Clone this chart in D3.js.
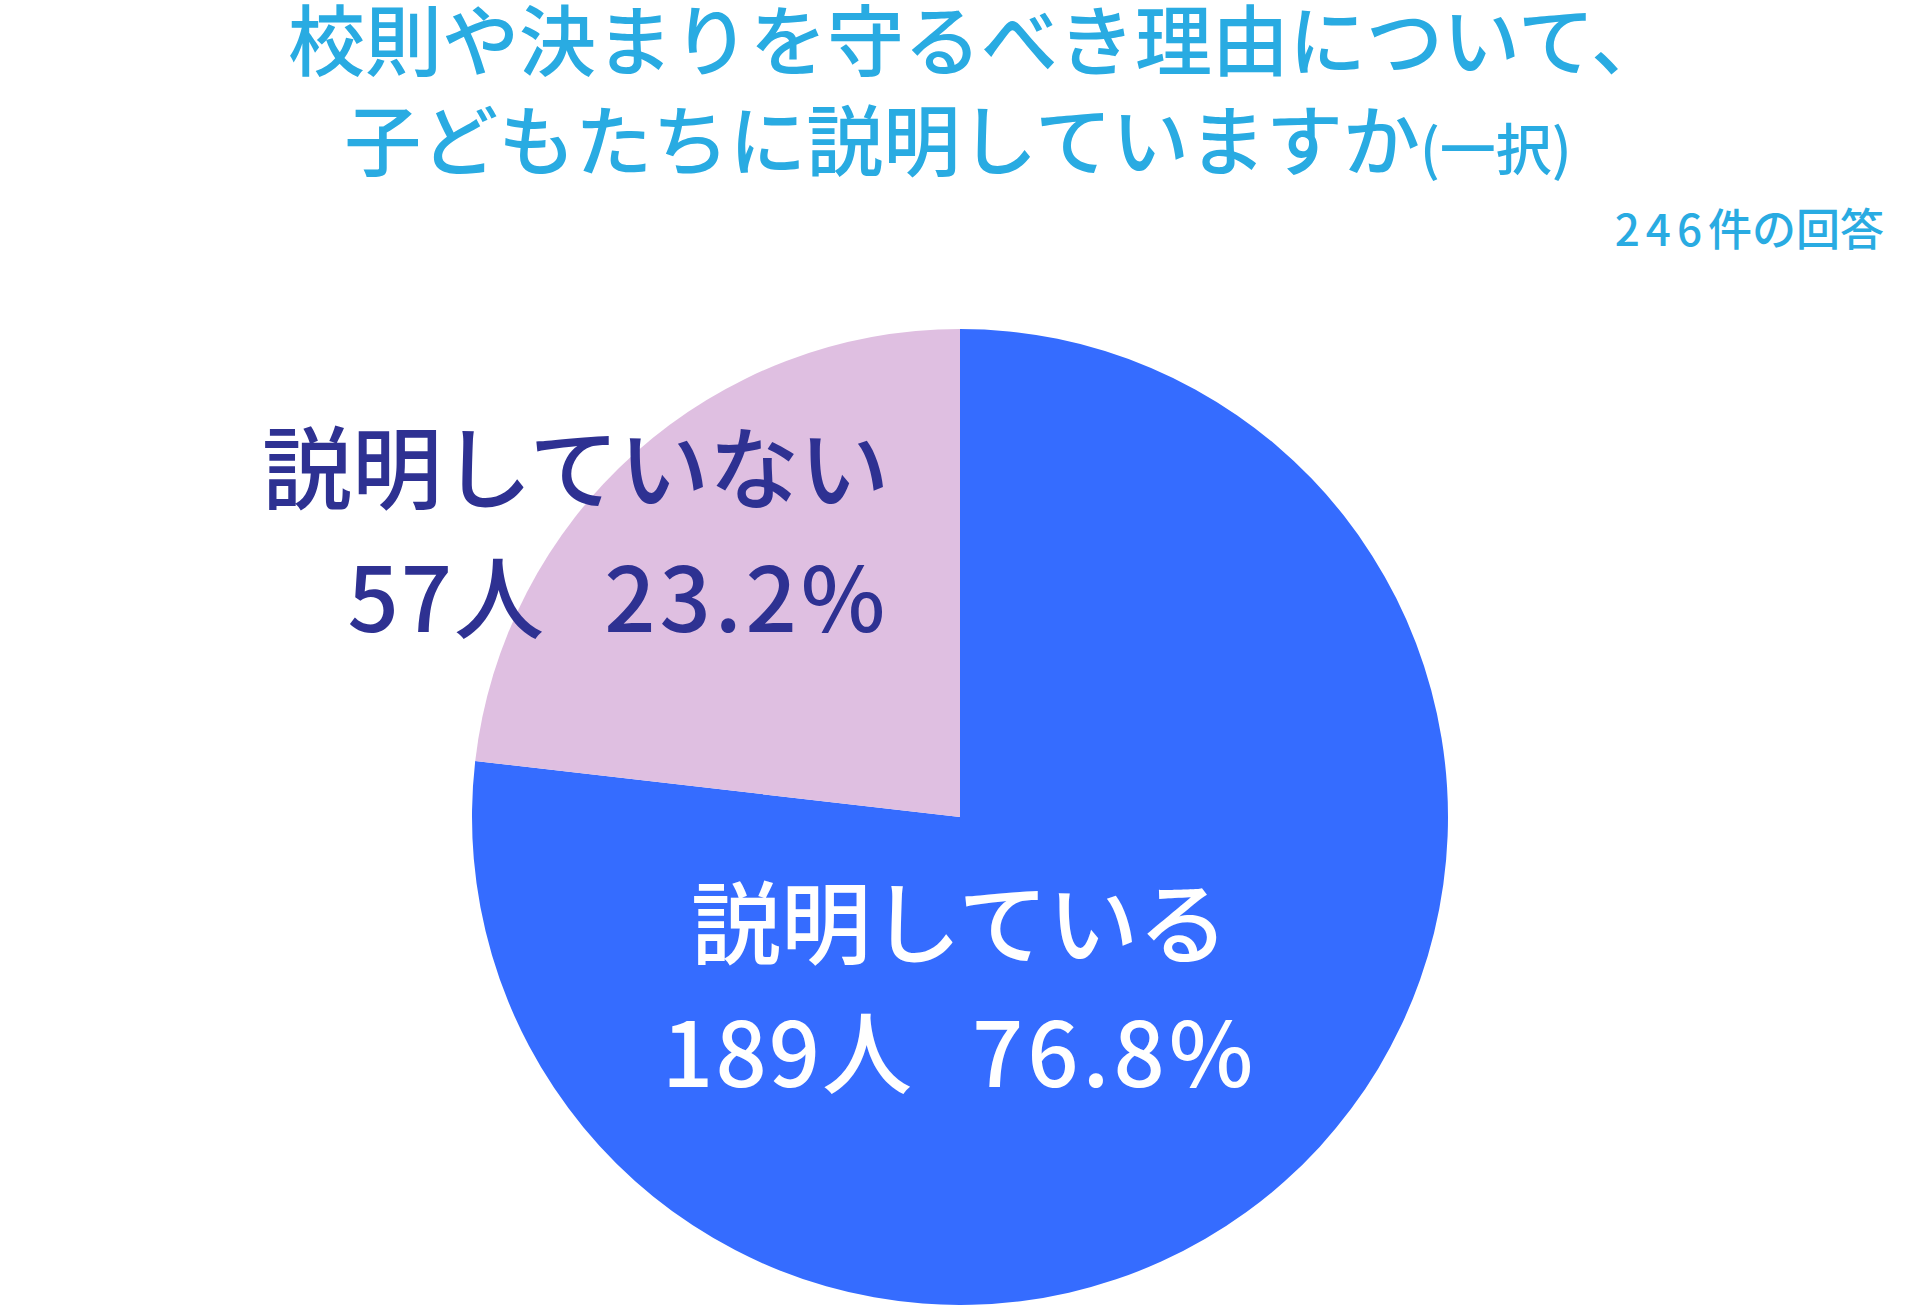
<!DOCTYPE html>
<html>
<head>
<meta charset="utf-8">
<script src="https://cdn.jsdelivr.net/npm/d3@7"></script>
<style>
  html, body { margin: 0; padding: 0; background: #fff; }
  svg { display: block; }
</style>
</head>
<body>
<div id="chart"></div>
<script>
const categories = ['説明している', '説明していない'];
const counts = [189, 57];
const percents = ['76.8%', '23.2%'];
const titleLines = ['校則や決まりを守るべき理由について、', '子どもたちに説明していますか'];
const titleNote = '(一択)';
const totalCount = '246';
const totalText = '件の回答';

const width = 1920;
const height = 1305;
const cx = 960, cy = 817, radius = 488;

const font = '"Noto Sans CJK JP", "Noto Sans", sans-serif';

const svg = d3.select('#chart')
    .append('svg')
    .attr('width', width)
    .attr('height', height);

// title
svg.append('text')
    .attr('x', 978)
    .attr('y', 70)
    .attr('text-anchor', 'middle')
    .attr('font-family', font)
    .attr('font-weight', 500)
    .attr('font-size', 77)
    .attr('fill', '#29abe2')
    .text(titleLines[0]);

const t2 = svg.append('text')
    .attr('x', 958)
    .attr('y', 170)
    .attr('text-anchor', 'middle')
    .attr('font-family', font)
    .attr('font-weight', 500)
    .attr('font-size', 77)
    .attr('fill', '#29abe2');
t2.append('tspan').text(titleLines[1]);
t2.append('tspan').attr('font-size', 56).text(titleNote);

const total = svg.append('text')
    .attr('x', 1884)
    .attr('y', 246)
    .attr('text-anchor', 'end')
    .attr('font-family', font)
    .attr('font-weight', 500)
    .attr('font-size', 44)
    .attr('fill', '#29abe2');
total.append('tspan').attr('letter-spacing', 6).text(totalCount);
total.append('tspan').attr('letter-spacing', 0).text(totalText);

// pie
const data = categories.map((c, i) => ({ name: c, count: counts[i], pct: percents[i] }));

const color = d3.scaleOrdinal()
    .domain(categories)
    .range(['#356cff', '#dfbfe1']);

const textColor = d3.scaleOrdinal()
    .domain(categories)
    .range(['#ffffff', '#2e3192']);

const pie = d3.pie().sort(null).value(d => d.count);
const arc = d3.arc().innerRadius(0).outerRadius(radius);

const g = svg.append('g').attr('transform', `translate(${cx}, ${cy})`);

g.selectAll('path')
    .data(pie(data))
    .enter().append('path')
    .attr('d', arc)
    .attr('fill', d => color(d.data.name));

// labels: from arc centroid, then nudged like the source
const labelArc = d3.arc().innerRadius(0).outerRadius(radius * 0.7);
const nudge = [[-114, 82], [43, -117]];
const anchor = ['middle', 'end'];

const labels = g.selectAll('.label')
    .data(pie(data))
    .enter().append('text')
    .attr('class', 'label')
    .attr('font-family', font)
    .attr('font-weight', 500)
    .attr('font-size', 90)
    .attr('fill', d => textColor(d.data.name))
    .attr('text-anchor', (d, i) => anchor[i])
    .attr('transform', (d, i) => {
        const c = labelArc.centroid(d);
        return `translate(${c[0] + nudge[i][0]}, ${c[1] + nudge[i][1]})`;
    });

labels.append('tspan')
    .attr('x', 0)
    .attr('y', -70)
    .text(d => d.data.name);

const line2 = labels.append('tspan')
    .attr('x', 0)
    .attr('y', 60);

line2.append('tspan')
    .attr('letter-spacing', 2)
    .text(d => `${d.data.count}人`);

line2.append('tspan')
    .attr('dx', 58)
    .attr('letter-spacing', 4)
    .text(d => d.data.pct);
</script>
</body>
</html>
